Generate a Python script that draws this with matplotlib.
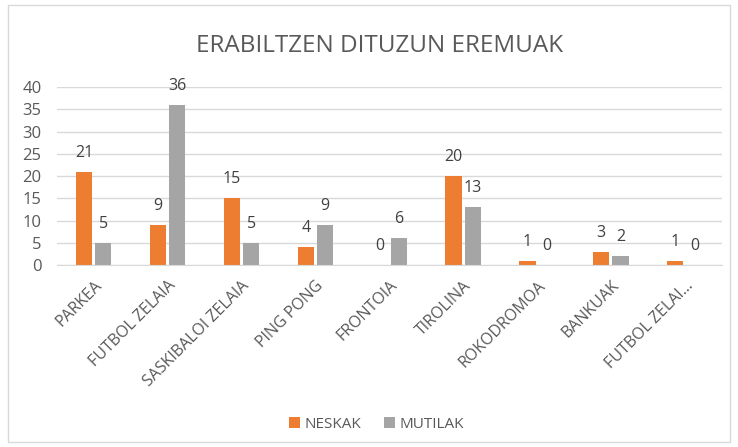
import matplotlib.pyplot as plt
import numpy as np
from matplotlib.patches import Rectangle

categories = ['PARKEA', 'FUTBOL ZELAIA', 'SASKIBALOI ZELAIA', 'PING PONG', 'FRONTOIA',
              'TIROLINA', 'ROKODROMOA', 'BANKUAK', 'FUTBOL ZELAI...']
neskak = [21, 9, 15, 4, 0, 20, 1, 3, 1]
mutilak = [5, 36, 5, 9, 6, 13, 0, 2, 0]
yticks = [0, 5, 10, 15, 20, 25, 30, 35, 40]

plt.rcParams['font.family'] = ['Open Sans', 'DejaVu Sans']
text_col = '#595959'

fig = plt.figure(figsize=(7.38, 4.47), dpi=100)
ax = fig.add_axes([0.077, 0.407, 0.901, 0.398])

x = np.arange(len(categories))
w = 0.22
b1 = ax.bar(x - w / 2 - 0.02, neskak, w, color='#ED7D31', label='NESKAK')
b2 = ax.bar(x + w / 2 + 0.02, mutilak, w, color='#A5A5A5', label='MUTILAK')
ax.bar_label(b1, padding=8, fontsize=11.5, color='#404040')
ax.bar_label(b2, padding=8, fontsize=11.5, color='#404040')

ax.set_xlim(-0.5, len(categories) - 0.5)
ax.set_ylim(0, 40)
ax.set_yticks(yticks)
ax.set_yticklabels([str(t) for t in yticks], fontsize=12, color=text_col)
ax.set_xticks(x)
ax.set_xticklabels(categories, rotation=45, ha='right', rotation_mode='anchor',
                   fontsize=11.5, color=text_col)
ax.tick_params(axis='y', length=0, pad=11)
ax.tick_params(axis='x', length=0, pad=9)
ax.grid(axis='y', color='#D9D9D9', linewidth=1)
ax.set_axisbelow(True)
for s in ['top', 'right', 'left']:
    ax.spines[s].set_visible(False)
ax.spines['bottom'].set_color('#D9D9D9')

fig.text(0.514, 0.897, 'ERABILTZEN DITUZUN EREMUAK', ha='center', va='center',
         fontsize=17.5, color=text_col)
fig.legend(loc='center', bbox_to_anchor=(0.51, 0.051), ncol=2, frameon=False,
           fontsize=11, handlelength=0.7, handleheight=0.7, columnspacing=1.5,
           handletextpad=0.3, labelcolor=text_col)

fig.patches.append(Rectangle((0.011, 0.012), 0.978, 0.976, transform=fig.transFigure,
                             fill=False, edgecolor='#D9D9D9', linewidth=1))

fig.savefig('out.png', dpi=100)
